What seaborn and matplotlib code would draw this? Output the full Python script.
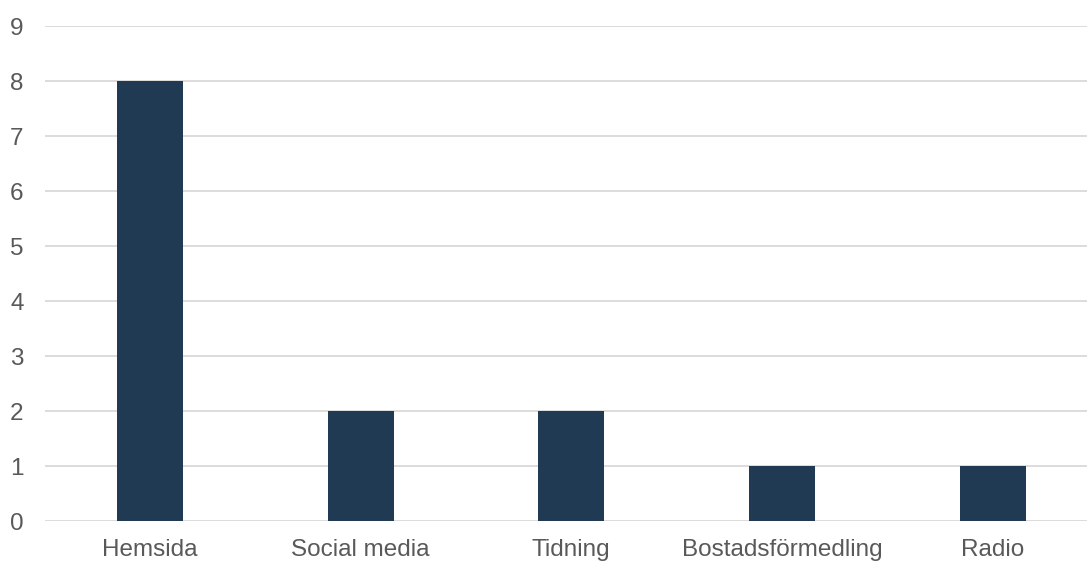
import matplotlib
matplotlib.use("Agg")
import matplotlib.pyplot as plt
import seaborn as sns
import pandas as pd

# data
kanaler = ["Hemsida", "Social media", "Tidning", "Bostadsförmedling", "Radio"]
antal = [8, 2, 2, 1, 1]

df = pd.DataFrame({"Kanal": kanaler, "Antal": antal})

sns.set_style("white")
plt.rcParams["font.family"] = ["Liberation Sans", "DejaVu Sans"]

fig = plt.figure(figsize=(10.87, 5.61), dpi=100)
ax = fig.add_axes([0.041, 0.0713, 0.969, 0.882])

sns.barplot(data=df, x="Kanal", y="Antal", color="#203A53", width=0.313,
            saturation=1, linewidth=0, ax=ax, zorder=3)

ax.set_ylim(0, 9)
ax.set_xlim(-0.5, len(kanaler) - 0.5)
ax.set_yticks(range(0, 10))
ax.yaxis.grid(True, color="#D9D9D9", linewidth=1.3, zorder=0)
ax.set_axisbelow(True)
for s in ax.spines.values():
    s.set_visible(False)
ax.set_xlabel("")
ax.set_ylabel("")
ax.tick_params(axis="both", length=0, labelsize=17.5, colors="#595959")
ax.tick_params(axis="y", pad=15)
ax.tick_params(axis="x", pad=13)

fig.savefig("out.png", dpi=100)
